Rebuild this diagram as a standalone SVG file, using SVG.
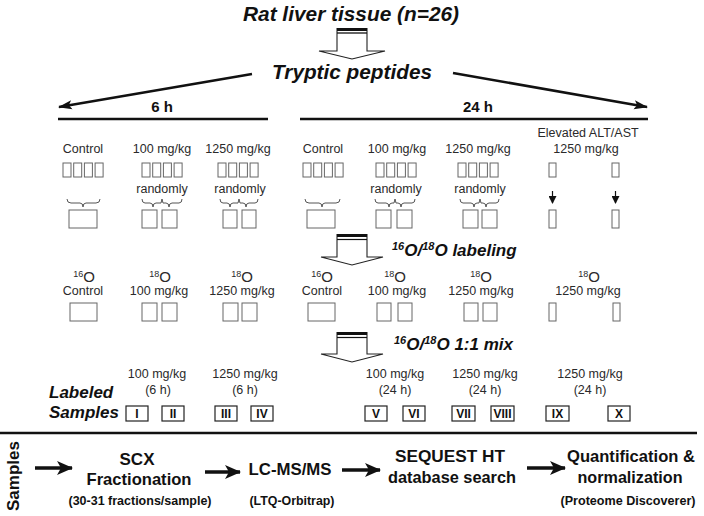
<svg xmlns="http://www.w3.org/2000/svg" width="704" height="516" viewBox="0 0 704 516">
<defs>
<style>
text{font-family:"Liberation Sans",Arial,sans-serif;}
.bi{font-weight:bold;font-style:italic;fill:#111;}
.b{font-weight:bold;fill:#111;}
.n{font-size:12.5px;fill:#2a2a2a;text-anchor:middle;}
.c{text-anchor:middle;}
.bx{fill:#fff;stroke:#666;stroke-width:1;}
.rb{fill:#fff;stroke:#222;stroke-width:1.2;}
.br{fill:none;stroke:#555;stroke-width:1;}
.hol{fill:#fff;stroke:#222;stroke-width:1.1;}
.thick{stroke:#111;stroke-width:2.5;fill:none;}
.rn{font-size:12px;font-weight:bold;fill:#111;text-anchor:middle;}
</style>
<marker id="ah" markerUnits="userSpaceOnUse" markerWidth="14" markerHeight="10" refX="13" refY="5" orient="auto">
<path d="M0,0.5 L14,5 L0,9.5 L3,5 Z" fill="#111"/>
</marker>
<marker id="ahb" markerUnits="userSpaceOnUse" markerWidth="16" markerHeight="14" refX="15" refY="7" orient="auto">
<path d="M0,0 L16,7 L0,14 L4,7 Z" fill="#111"/>
</marker>
<marker id="ahs" markerUnits="userSpaceOnUse" markerWidth="8" markerHeight="8" refX="7" refY="4" orient="auto">
<path d="M0,0 L8,4 L0,8 Z" fill="#111"/>
</marker>
</defs>
<rect width="704" height="516" fill="#fff"/>

<g id="title">
<text class="bi c" x="351" y="21" font-size="21" textLength="216" lengthAdjust="spacingAndGlyphs">Rat liver tissue (n=26)</text>
</g>
<g id="tryptic">
<text class="bi c" x="352" y="79" font-size="21" textLength="160" lengthAdjust="spacingAndGlyphs">Tryptic peptides</text>
</g>

<g id="connectors">
<!-- hollow arrow 1 -->
<path class="hol" d="M337,31 V51 H319 L352,59 L385,51 H367 V31"/>
<rect x="336.5" y="28" width="31" height="3" fill="#111"/>
<line x1="337" y1="33" x2="367" y2="33" stroke="#111" stroke-width="1.3"/>
<!-- split arrows -->
<line class="thick" x1="252" y1="74" x2="59" y2="107" marker-end="url(#ah)"/>
<line class="thick" x1="453" y1="73" x2="647" y2="107" marker-end="url(#ah)"/>
<line class="thick" x1="58" y1="119" x2="268" y2="119"/>
<line class="thick" x1="300" y1="119" x2="648" y2="119"/>
<!-- braces -->
<path class="br" d="M67,199 q0,4 4,4 H80 q3,0 3,4 q0,-4 3,-4 H96 q4,0 4,-4"/>
<path class="br" d="M142,199 q0,4 3,4 H150 q3,0 3,4 q0,-4 3,-4 H161 l1,-4 l1,4 H166 q3,0 3,4 q0,-4 3,-4 H179 q3,0 3,-4"/>
<path class="br" d="M220,199 q0,4 3,4 H227 q3,0 3,4 q0,-4 3,-4 H238 l1,-4 l1,4 H243 q3,0 3,4 q0,-4 3,-4 H255 q3,0 3,-4"/>
<path class="br" d="M305,199 q0,4 4,4 H319 q3,0 3,4 q0,-4 3,-4 H336 q4,0 4,-4"/>
<path class="br" d="M375,199 q0,4 3,4 H386 q3,0 3,4 q0,-4 3,-4 H394 l1,-4 l1,4 H398 q3,0 3,4 q0,-4 3,-4 H412 q3,0 3,-4"/>
<path class="br" d="M460,199 q0,4 3,4 H471 q3,0 3,4 q0,-4 3,-4 H479 l1,-4 l1,4 H483 q3,0 3,4 q0,-4 3,-4 H496 q3,0 3,-4"/>
<line x1="552.5" y1="191" x2="552.5" y2="203" stroke="#111" stroke-width="1.2" marker-end="url(#ahs)"/>
<line x1="615.5" y1="191" x2="615.5" y2="203" stroke="#111" stroke-width="1.2" marker-end="url(#ahs)"/>
<!-- hollow arrow 2 -->
<path class="hol" d="M337,237 V257 H321 L352,265 L383,257 H367 V237"/>
<rect x="336.5" y="234" width="31" height="3" fill="#111"/>
<line x1="337" y1="239.5" x2="367" y2="239.5" stroke="#111" stroke-width="1.2"/>
<!-- hollow arrow 3 -->
<path class="hol" d="M337,335 V354 H321 L352,362 L383,354 H367 V335"/>
<rect x="336.5" y="332" width="31" height="3" fill="#111"/>
<line x1="337" y1="337.5" x2="367" y2="337.5" stroke="#111" stroke-width="1.2"/>
<!-- divider -->
<line x1="0" y1="433" x2="697" y2="433" stroke="#111" stroke-width="2.5"/>
<!-- workflow arrows -->
<line x1="35" y1="468" x2="72" y2="468" stroke="#111" stroke-width="3.5" marker-end="url(#ahb)"/>
<line x1="205" y1="472" x2="240" y2="472" stroke="#111" stroke-width="3.5" marker-end="url(#ahb)"/>
<line x1="342" y1="470" x2="380" y2="470" stroke="#111" stroke-width="3.5" marker-end="url(#ahb)"/>
<line x1="527" y1="468" x2="565" y2="468" stroke="#111" stroke-width="3.5" marker-end="url(#ahb)"/>
</g>

<g id="time-labels">
<text class="b c" x="162" y="112" font-size="15">6 h</text>
<text class="b c" x="478" y="112" font-size="15">24 h</text>
</g>

<g id="row1-6h-control">
<text class="n" x="83" y="153">Control</text>
<rect class="bx" x="63" y="163" width="8" height="14"/><rect class="bx" x="73.7" y="163" width="8" height="14"/><rect class="bx" x="84.4" y="163" width="8" height="14"/><rect class="bx" x="95.1" y="163" width="8" height="14"/>
<rect class="bx" x="69" y="210" width="28" height="18"/>
</g>
<g id="row1-6h-100">
<text class="n" x="162" y="153">100 mg/kg</text>
<rect class="bx" x="142" y="163" width="8" height="14"/><rect class="bx" x="152.7" y="163" width="8" height="14"/><rect class="bx" x="163.4" y="163" width="8" height="14"/><rect class="bx" x="174.1" y="163" width="8" height="14"/>
<text class="n" x="162" y="193">randomly</text>
<rect class="bx" x="142" y="210" width="15" height="18"/><rect class="bx" x="162" y="210" width="15" height="18"/>
</g>
<g id="row1-6h-1250">
<text class="n" x="238" y="153">1250 mg/kg</text>
<rect class="bx" x="218" y="163" width="8" height="14"/><rect class="bx" x="228.7" y="163" width="8" height="14"/><rect class="bx" x="239.4" y="163" width="8" height="14"/><rect class="bx" x="250.1" y="163" width="8" height="14"/>
<text class="n" x="240" y="193">randomly</text>
<rect class="bx" x="223" y="210" width="14" height="18"/><rect class="bx" x="242" y="210" width="14" height="18"/>
</g>
<g id="row1-24h-control">
<text class="n" x="323" y="153">Control</text>
<rect class="bx" x="303" y="163" width="8" height="14"/><rect class="bx" x="313.7" y="163" width="8" height="14"/><rect class="bx" x="324.4" y="163" width="8" height="14"/><rect class="bx" x="335.1" y="163" width="8" height="14"/>
<rect class="bx" x="307" y="210" width="28" height="18"/>
</g>
<g id="row1-24h-100">
<text class="n" x="397" y="153">100 mg/kg</text>
<rect class="bx" x="376" y="163" width="8" height="14"/><rect class="bx" x="386.7" y="163" width="8" height="14"/><rect class="bx" x="397.4" y="163" width="8" height="14"/><rect class="bx" x="408.1" y="163" width="8" height="14"/>
<text class="n" x="396" y="193">randomly</text>
<rect class="bx" x="376" y="210" width="15" height="18"/><rect class="bx" x="397" y="210" width="15" height="18"/>
</g>
<g id="row1-24h-1250">
<text class="n" x="478" y="153">1250 mg/kg</text>
<rect class="bx" x="458" y="163" width="8" height="14"/><rect class="bx" x="468.7" y="163" width="8" height="14"/><rect class="bx" x="479.4" y="163" width="8" height="14"/><rect class="bx" x="490.1" y="163" width="8" height="14"/>
<text class="n" x="480" y="193">randomly</text>
<rect class="bx" x="463" y="210" width="15" height="18"/><rect class="bx" x="482" y="210" width="15" height="18"/>
</g>
<g id="row1-24h-elevated">
<text class="n" x="588" y="137">Elevated ALT/AST</text>
<text class="n" x="586" y="153">1250 mg/kg</text>
<rect class="bx" x="549" y="163" width="7" height="14"/><rect class="bx" x="612" y="163" width="7" height="14"/>
<rect class="bx" x="549" y="210" width="7" height="18"/><rect class="bx" x="612" y="210" width="7" height="18"/>
</g>

<g id="labeling-label">
<text class="bi" x="392" y="256" font-size="17"><tspan font-size="11" dy="-6">16</tspan><tspan dy="6">O/</tspan><tspan font-size="11" dy="-6">18</tspan><tspan dy="6">O labeling</tspan></text>
</g>

<g id="row3-6h-control">
<text class="n" x="84" y="282"><tspan font-size="9" dy="-5">16</tspan><tspan font-size="15" dy="5">O</tspan></text>
<text class="n" x="83" y="295">Control</text>
<rect class="bx" x="70" y="303" width="27" height="18"/>
</g>
<g id="row3-6h-100">
<text class="n" x="160" y="282"><tspan font-size="9" dy="-5">18</tspan><tspan font-size="15" dy="5">O</tspan></text>
<text class="n" x="159" y="295">100 mg/kg</text>
<rect class="bx" x="142" y="303" width="15" height="18"/><rect class="bx" x="162" y="303" width="15" height="18"/>
</g>
<g id="row3-6h-1250">
<text class="n" x="242" y="282"><tspan font-size="9" dy="-5">18</tspan><tspan font-size="15" dy="5">O</tspan></text>
<text class="n" x="242" y="295">1250 mg/kg</text>
<rect class="bx" x="223" y="303" width="15" height="18"/><rect class="bx" x="242" y="303" width="15" height="18"/>
</g>
<g id="row3-24h-control">
<text class="n" x="322" y="282"><tspan font-size="9" dy="-5">16</tspan><tspan font-size="15" dy="5">O</tspan></text>
<text class="n" x="322" y="295">Control</text>
<rect class="bx" x="308" y="303" width="27" height="18"/>
</g>
<g id="row3-24h-100">
<text class="n" x="395" y="282"><tspan font-size="9" dy="-5">18</tspan><tspan font-size="15" dy="5">O</tspan></text>
<text class="n" x="397" y="295">100 mg/kg</text>
<rect class="bx" x="377" y="303" width="14" height="18"/><rect class="bx" x="398" y="303" width="14" height="18"/>
</g>
<g id="row3-24h-1250">
<text class="n" x="481" y="282"><tspan font-size="9" dy="-5">18</tspan><tspan font-size="15" dy="5">O</tspan></text>
<text class="n" x="481" y="295">1250 mg/kg</text>
<rect class="bx" x="464" y="303" width="14" height="18"/><rect class="bx" x="483" y="303" width="14" height="18"/>
</g>
<g id="row3-24h-elevated">
<text class="n" x="589" y="282"><tspan font-size="9" dy="-5">18</tspan><tspan font-size="15" dy="5">O</tspan></text>
<text class="n" x="588" y="295">1250 mg/kg</text>
<rect class="bx" x="549" y="303" width="7" height="18"/><rect class="bx" x="613" y="303" width="7" height="18"/>
</g>

<g id="mix-label">
<text class="bi" x="394" y="350" font-size="17"><tspan font-size="11" dy="-6">16</tspan><tspan dy="6">O/</tspan><tspan font-size="11" dy="-6">18</tspan><tspan dy="6">O 1:1 mix</tspan></text>
</g>

<g id="labeled-samples">
<text class="bi" x="49" y="398" font-size="17">Labeled</text>
<text class="bi" x="49" y="418" font-size="17">Samples</text>
</g>
<g id="samples-6h-100">
<text class="n" x="157" y="378">100 mg/kg</text>
<text class="n" x="158" y="394">(6 h)</text>
<rect class="rb" x="126" y="406" width="22" height="15"/><text class="rn" x="137" y="418">I</text>
<rect class="rb" x="162" y="406" width="22" height="15"/><text class="rn" x="173" y="418">II</text>
</g>
<g id="samples-6h-1250">
<text class="n" x="245" y="378">1250 mg/kg</text>
<text class="n" x="245" y="394">(6 h)</text>
<rect class="rb" x="215" y="406" width="22" height="15"/><text class="rn" x="226" y="418">III</text>
<rect class="rb" x="251" y="406" width="22" height="15"/><text class="rn" x="262" y="418">IV</text>
</g>
<g id="samples-24h-100">
<text class="n" x="395" y="378">100 mg/kg</text>
<text class="n" x="395" y="394">(24 h)</text>
<rect class="rb" x="365" y="406" width="22" height="15"/><text class="rn" x="376" y="418">V</text>
<rect class="rb" x="403" y="406" width="22" height="15"/><text class="rn" x="414" y="418">VI</text>
</g>
<g id="samples-24h-1250">
<text class="n" x="485" y="378">1250 mg/kg</text>
<text class="n" x="485" y="394">(24 h)</text>
<rect class="rb" x="452" y="406" width="23" height="15"/><text class="rn" x="463.5" y="418">VII</text>
<rect class="rb" x="491" y="406" width="23" height="15"/><text class="rn" x="502.5" y="418">VIII</text>
</g>
<g id="samples-24h-elevated">
<text class="n" x="590" y="378">1250 mg/kg</text>
<text class="n" x="590" y="394">(24 h)</text>
<rect class="rb" x="546" y="406" width="23" height="15"/><text class="rn" x="557.5" y="418">IX</text>
<rect class="rb" x="608" y="406" width="22" height="15"/><text class="rn" x="619" y="418">X</text>
</g>

<g id="samples-vertical">
<text class="b c" transform="translate(18.5,476) rotate(-90)" x="0" y="0" font-size="17">Samples</text>
</g>
<g id="step-scx">
<text class="b c" x="137" y="465" font-size="17">SCX</text>
<text class="b c" x="139" y="485" font-size="17" textLength="105" lengthAdjust="spacingAndGlyphs">Fractionation</text>
<text class="b c" x="140" y="505" font-size="12.5" textLength="143" lengthAdjust="spacingAndGlyphs">(30-31 fractions/sample)</text>
</g>
<g id="step-lcms">
<text class="b c" x="290" y="475" font-size="17" textLength="83" lengthAdjust="spacingAndGlyphs">LC-MS/MS</text>
<text class="b c" x="292" y="505" font-size="12.5" textLength="85" lengthAdjust="spacingAndGlyphs">(LTQ-Orbitrap)</text>
</g>
<g id="step-sequest">
<text class="b c" x="450" y="462" font-size="17" textLength="110" lengthAdjust="spacingAndGlyphs">SEQUEST HT</text>
<text class="b c" x="452" y="483" font-size="17" textLength="128" lengthAdjust="spacingAndGlyphs">database search</text>
</g>
<g id="step-quant">
<text class="b c" x="631" y="462" font-size="17" textLength="128" lengthAdjust="spacingAndGlyphs">Quantification &amp;</text>
<text class="b c" x="630" y="483" font-size="17" textLength="105" lengthAdjust="spacingAndGlyphs">normalization</text>
<text class="b c" x="628" y="505" font-size="12.5" textLength="135" lengthAdjust="spacingAndGlyphs">(Proteome Discoverer)</text>
</g>
</svg>
